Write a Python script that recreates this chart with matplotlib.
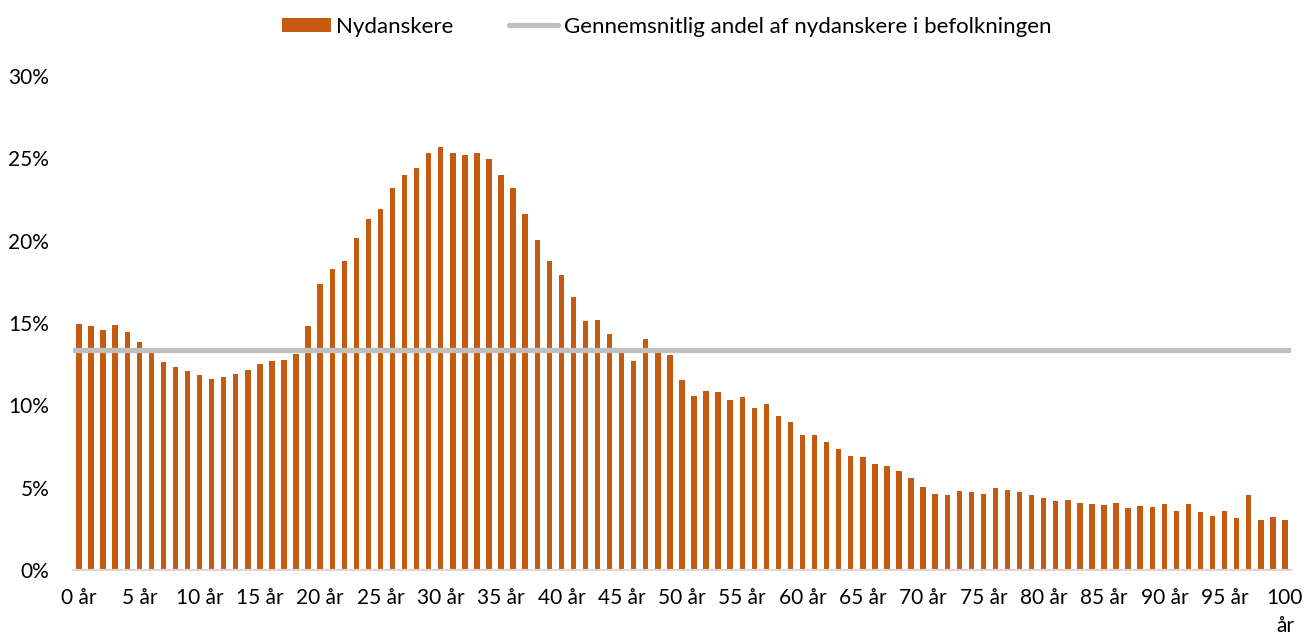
import matplotlib.pyplot as plt
import numpy as np

# Andel nydanskere efter alder (0-100 år)
ages = np.arange(0, 101)
andel = [
    14.92, 14.81, 14.55, 14.87, 14.43, 13.82, 13.2, 12.63, 12.33, 12.08,
    11.86, 11.58, 11.70, 11.88, 12.14, 12.49, 12.69, 12.75, 13.13, 14.83,
    17.38, 18.28, 18.76, 20.14, 21.33, 21.92, 23.21, 23.98, 24.41, 25.30,
    25.72, 25.32, 25.22, 25.32, 24.97, 23.98, 23.23, 21.60, 20.04, 18.74,
    17.91, 16.58, 15.10, 15.18, 14.31, 13.19, 12.71, 14.04, 13.2, 13.07,
    11.54, 10.56, 10.85, 10.81, 10.30, 10.50, 9.84, 10.08, 9.33, 8.97,
    8.20, 8.18, 7.77, 7.33, 6.94, 6.84, 6.42, 6.30, 6.01, 5.61,
    5.02, 4.61, 4.57, 4.80, 4.72, 4.63, 4.98, 4.86, 4.76, 4.57,
    4.37, 4.21, 4.23, 4.07, 3.99, 3.95, 4.05, 3.74, 3.87, 3.85,
    3.99, 3.56, 3.99, 3.50, 3.26, 3.60, 3.14, 4.57, 3.06, 3.20,
    3.02,
]
gennemsnit = 13.36

tick_pos = list(range(0, 101, 5))
tick_labels = [f"{a} år" for a in tick_pos[:-1]] + ["100\når"]
y_ticks = [0, 5, 10, 15, 20, 25, 30]

orange = "#C55A11"
grey = "#BFBFBF"

plt.rcParams['font.family'] = ['Lato', 'DejaVu Sans']

fig = plt.figure(figsize=(13.15, 6.39), dpi=100)
ax = fig.add_axes([0.0555, 0.108, 0.9262, 0.773])

bars = ax.bar(ages, andel, width=0.45, color=orange, label="Nydanskere", zorder=2)
line = ax.axhline(gennemsnit, color=grey, linewidth=3.8, zorder=3,
                  solid_capstyle='round',
                  label="Gennemsnitlig andel af nydanskere i befolkningen")

ax.set_xlim(-0.5, 100.5)
ax.set_ylim(0, 30)
ax.set_yticks(y_ticks)
ax.set_yticklabels([f"{v}%" for v in y_ticks])
ax.set_xticks(tick_pos)
ax.set_xticklabels(tick_labels, linespacing=1.5)
ax.tick_params(axis='both', length=0, labelsize=15, colors="#000000")
ax.tick_params(axis='y', pad=17)
ax.tick_params(axis='x', pad=13)

for s in ['top', 'right', 'left']:
    ax.spines[s].set_visible(False)
ax.spines['bottom'].set_color("#D9D9D9")
ax.spines['bottom'].set_linewidth(1.5)

fig.legend([bars, line], [bars.get_label(), line.get_label()],
           loc='upper center', bbox_to_anchor=(0.507, 1.005), ncol=2,
           frameon=False, fontsize=16, handlelength=2.2, handleheight=0.65,
           columnspacing=2.5, handletextpad=0.25)

fig.savefig("out.png", dpi=100, facecolor="white")
